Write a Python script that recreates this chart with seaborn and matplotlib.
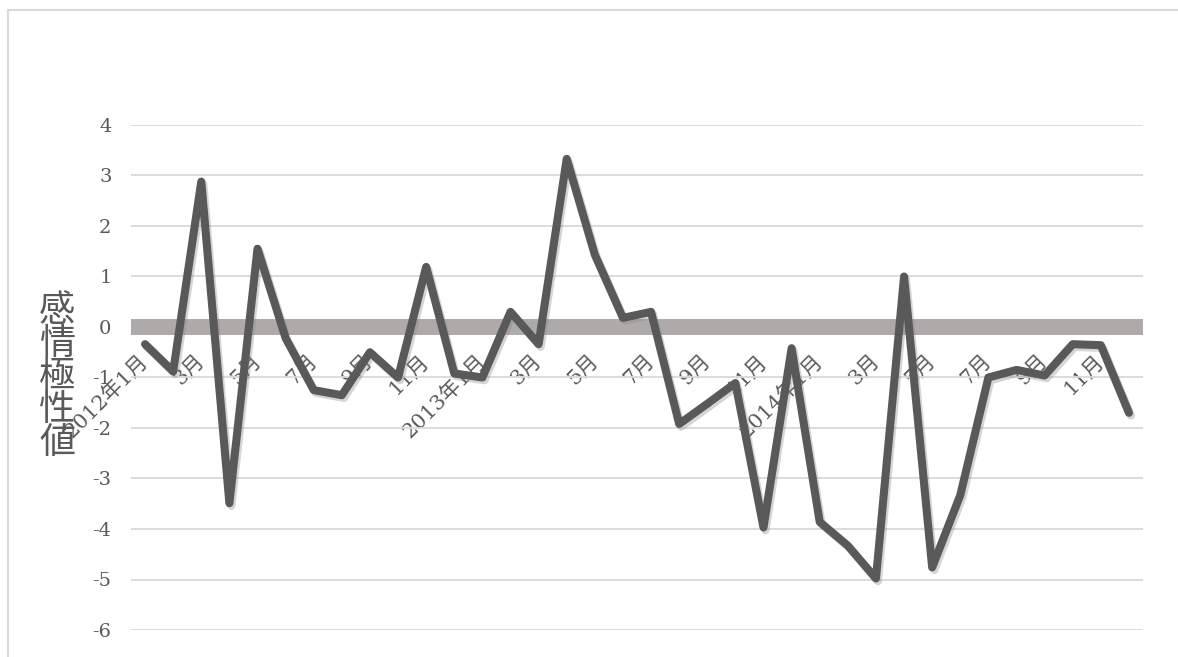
import matplotlib

matplotlib.use("Agg")
import matplotlib.patheffects as pe
import matplotlib.pyplot as plt
import numpy as np
import pandas as pd
import seaborn as sns
from matplotlib.patches import Rectangle

# monthly sentiment polarity, 2012-01 .. 2014-12
years = [2012, 2013, 2014]
months = [f"{y}-{m:02d}" for y in years for m in range(1, 13)]
polarity = [
    -0.34, -0.88, 2.88, -3.49, 1.55, -0.22, -1.25, -1.35, -0.50, -1.00, 1.19, -0.92,
    -1.00, 0.30, -0.34, 3.33, 1.43, 0.18, 0.30, -1.92, -1.52, -1.11, -3.97, -0.42,
    -3.86, -4.33, -4.98, 1.00, -4.76, -3.33, -1.00, -0.85, -0.96, -0.34, -0.36, -1.70,
]
x_tick_labels = [
    "2012年1月", "3月", "5月", "7月", "9月", "11月",
    "2013年1月", "3月", "5月", "7月", "9月", "11月",
    "2014年1月", "3月", "5月", "7月", "9月", "11月",
]
y_ticks = [-6, -5, -4, -3, -2, -1, 0, 1, 2, 3, 4]
y_label = "感情極性値"

TEXT = "#595959"
LINE = "#595959"
ZERO = "#aeaaaa"
GRID = "#d9d9d9"

sns.set_style("white")
plt.rcParams["font.family"] = ["DejaVu Serif", "Noto Sans CJK JP"]

df = pd.DataFrame({"pos": np.arange(len(months)), "month": months, "value": polarity})

W, H = 1178, 657
fig = plt.figure(figsize=(W / 100, H / 100), dpi=100)
ax = fig.add_axes([131 / W, 1 - 630 / H, 1012 / W, 505 / H])

sns.lineplot(
    data=df, x="pos", y="value", ax=ax, color=LINE, linewidth=5.8,
    solid_joinstyle="round", solid_capstyle="round", zorder=5,
    path_effects=[
        pe.SimpleLineShadow(offset=(1.5, -2), shadow_color="#888888", alpha=0.35),
        pe.Normal(),
    ],
)

ax.set_xlim(-0.5, len(months) - 0.5)
ax.set_ylim(min(y_ticks), max(y_ticks))

# y axis: gridlines only, labels on the left
ax.set_yticks(y_ticks)
ax.set_yticklabels([str(t) for t in y_ticks], color=TEXT, fontsize=14)
ax.yaxis.grid(True, color=GRID, linewidth=1.3)
ax.tick_params(axis="y", length=0, pad=14)

# x axis crosses at zero, drawn as a thick grey band
for side in ["left", "right", "top"]:
    ax.spines[side].set_visible(False)
ax.spines["bottom"].set_position(("data", 0))
ax.spines["bottom"].set_color(ZERO)
ax.spines["bottom"].set_linewidth(11.5)
ax.spines["bottom"].set_capstyle("butt")

ax.set_xticks(np.arange(0, len(months), 2))
ax.set_xticklabels(x_tick_labels, color=TEXT, fontsize=15)
ax.tick_params(axis="x", length=0, pad=22)
for lbl in ax.get_xticklabels():
    lbl.set_rotation(45)
    lbl.set_ha("right")
    lbl.set_va("center")
    lbl.set_rotation_mode("anchor")

ax.set_xlabel("")
ax.set_ylabel(
    "\n".join(y_label), rotation=0, fontsize=26, color=TEXT,
    family=["Noto Sans CJK JP"], linespacing=0.9, ha="center", va="center",
)
ax.yaxis.set_label_coords((57 - 131) / 1012, (630 - 377) / 505)

# chart frame (cropped at the right and bottom)
fig.patches.append(
    Rectangle((8 / W, -0.05), 1.2, 1 - 9.5 / H + 0.05, transform=fig.transFigure,
              fill=False, edgecolor=GRID, linewidth=1.5)
)

fig.savefig("out.png", dpi=100)
